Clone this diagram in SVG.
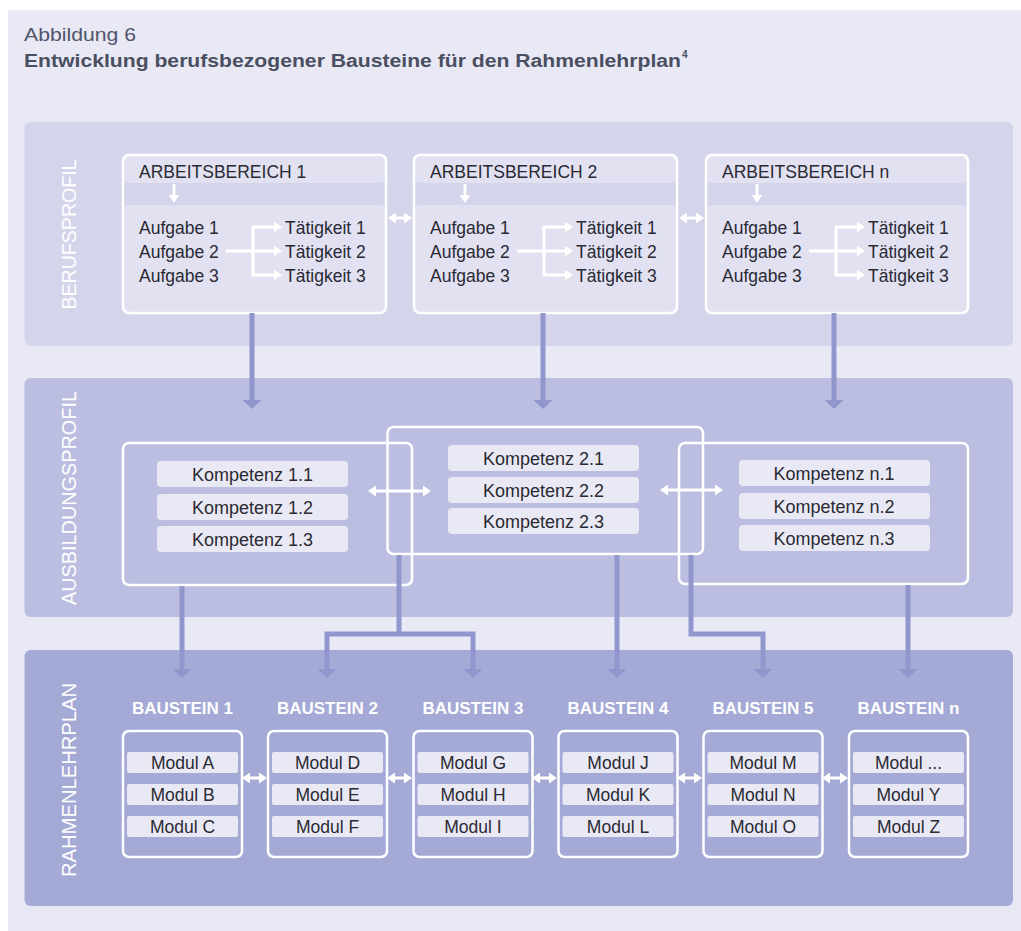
<svg xmlns="http://www.w3.org/2000/svg" width="1021" height="931" viewBox="0 0 1021 931">
<defs>
<style>
.t{font-family:"Liberation Sans",Arial,sans-serif;fill:#2a2a32;font-size:17.5px}
.k{font-size:18px}
.c{text-anchor:middle}
.vl{font-family:"Liberation Sans",Arial,sans-serif;fill:#ffffff;font-size:20px;text-anchor:middle}
.bl{font-family:"Liberation Sans",Arial,sans-serif;fill:#ffffff;font-size:17px;font-weight:bold;text-anchor:middle}
.box{fill:none;stroke:#ffffff;stroke-width:2.5}
.light{fill:#e1e1f2}
.pill{fill:#e9e9f5}
.wl{fill:none;stroke:#ffffff;stroke-width:3}
.pl{fill:none;stroke:#9197cd;stroke-width:5}
</style>
<marker id="wh" viewBox="0 0 8 11" refX="0" refY="5.5" markerWidth="8" markerHeight="11" markerUnits="userSpaceOnUse" orient="auto-start-reverse"><path d="M0,0 L8,5.5 L0,11 z" fill="#ffffff"/></marker>
<marker id="ph" viewBox="0 0 9 19" refX="0" refY="9.5" markerWidth="9" markerHeight="19" markerUnits="userSpaceOnUse" orient="auto-start-reverse"><path d="M0,0 L9,9.5 L0,19 z" fill="#9197cd"/></marker>
</defs>
<rect x="0" y="0" width="1021" height="931" fill="#ffffff"/>
<rect x="8" y="10" width="1013" height="921" fill="#e9e9f5"/>
<text x="24" y="41" style="font-family:'Liberation Sans',Arial,sans-serif;font-size:18.5px;fill:#50546a" textLength="112" lengthAdjust="spacingAndGlyphs">Abbildung 6</text>
<text x="24" y="66.5" style="font-family:'Liberation Sans',Arial,sans-serif;font-size:18px;font-weight:bold;fill:#4b4f62" textLength="657" lengthAdjust="spacingAndGlyphs">Entwicklung berufsbezogener Bausteine für den Rahmenlehrplan</text>
<text x="682" y="58" style="font-family:'Liberation Sans',Arial,sans-serif;font-size:10px;font-weight:bold;fill:#4b4f62">4</text>

<g id="panel-berufsprofil">
<rect x="24.5" y="122" width="988.5" height="224" rx="6" fill="#d4d4eb"/>
<text class="vl" transform="translate(75.5,234.5) rotate(-90)" textLength="150" lengthAdjust="spacingAndGlyphs">BERUFSPROFIL</text>
</g>
<g id="panel-ausbildungsprofil">
<rect x="24.5" y="378" width="988.5" height="239" rx="6" fill="#bbbee0"/>
<text class="vl" transform="translate(75.5,498) rotate(-90)" textLength="214" lengthAdjust="spacingAndGlyphs">AUSBILDUNGSPROFIL</text>
</g>
<g id="panel-rahmenlehrplan">
<rect x="24.5" y="650" width="988.5" height="256" rx="6" fill="#a5a9d6"/>
<text class="vl" transform="translate(75.5,780) rotate(-90)" textLength="194" lengthAdjust="spacingAndGlyphs">RAHMENLEHRPLAN</text>
</g>

<g id="arbeitsbereich-1">
<rect class="light" x="124" y="156" width="261" height="27" rx="5"/>
<rect class="light" x="124" y="205" width="261" height="107" rx="5"/>
<rect class="box" x="123" y="155" width="263" height="158" rx="6"/>
<text class="t" x="139" y="178">ARBEITSBEREICH 1</text>
<path class="wl" d="M174,184 V195" marker-end="url(#wh)"/>
<text class="t" x="139" y="234">Aufgabe 1</text>
<text class="t" x="139" y="258">Aufgabe 2</text>
<text class="t" x="139" y="282">Aufgabe 3</text>
<text class="t" x="285" y="234">Tätigkeit 1</text>
<text class="t" x="285" y="258">Tätigkeit 2</text>
<text class="t" x="285" y="282">Tätigkeit 3</text>
<path class="wl" d="M226,251 H274" marker-end="url(#wh)"/>
<path class="wl" d="M274,227 H253 V275 H274" marker-start="url(#wh)" marker-end="url(#wh)"/>
</g>
<g id="arbeitsbereich-2">
<rect class="light" x="415" y="156" width="261" height="27" rx="5"/>
<rect class="light" x="415" y="205" width="261" height="107" rx="5"/>
<rect class="box" x="414" y="155" width="263" height="158" rx="6"/>
<text class="t" x="430" y="178">ARBEITSBEREICH 2</text>
<path class="wl" d="M465,184 V195" marker-end="url(#wh)"/>
<text class="t" x="430" y="234">Aufgabe 1</text>
<text class="t" x="430" y="258">Aufgabe 2</text>
<text class="t" x="430" y="282">Aufgabe 3</text>
<text class="t" x="576" y="234">Tätigkeit 1</text>
<text class="t" x="576" y="258">Tätigkeit 2</text>
<text class="t" x="576" y="282">Tätigkeit 3</text>
<path class="wl" d="M517,251 H565" marker-end="url(#wh)"/>
<path class="wl" d="M565,227 H544 V275 H565" marker-start="url(#wh)" marker-end="url(#wh)"/>
</g>
<g id="arbeitsbereich-n">
<rect class="light" x="707" y="156" width="260" height="27" rx="5"/>
<rect class="light" x="707" y="205" width="260" height="107" rx="5"/>
<rect class="box" x="706" y="155" width="262" height="158" rx="6"/>
<text class="t" x="722" y="178">ARBEITSBEREICH n</text>
<path class="wl" d="M757,184 V195" marker-end="url(#wh)"/>
<text class="t" x="722" y="234">Aufgabe 1</text>
<text class="t" x="722" y="258">Aufgabe 2</text>
<text class="t" x="722" y="282">Aufgabe 3</text>
<text class="t" x="868" y="234">Tätigkeit 1</text>
<text class="t" x="868" y="258">Tätigkeit 2</text>
<text class="t" x="868" y="282">Tätigkeit 3</text>
<path class="wl" d="M809,251 H857" marker-end="url(#wh)"/>
<path class="wl" d="M857,227 H836 V275 H857" marker-start="url(#wh)" marker-end="url(#wh)"/>
</g>

<g id="kompetenz-1">
<rect class="pill" x="157" y="461" width="191" height="26" rx="4"/>
<rect class="pill" x="157" y="494" width="191" height="26" rx="4"/>
<rect class="pill" x="157" y="526" width="191" height="26" rx="4"/>
<text class="t k c" x="252.5" y="480.5">Kompetenz 1.1</text>
<text class="t k c" x="252.5" y="513.5">Kompetenz 1.2</text>
<text class="t k c" x="252.5" y="545.5">Kompetenz 1.3</text>
<rect class="box" x="123" y="443" width="289" height="142" rx="6"/>
</g>
<g id="kompetenz-2">
<rect class="pill" x="448" y="445" width="191" height="26" rx="4"/>
<rect class="pill" x="448" y="477" width="191" height="26" rx="4"/>
<rect class="pill" x="448" y="508" width="191" height="26" rx="4"/>
<text class="t k c" x="543.5" y="464.5">Kompetenz 2.1</text>
<text class="t k c" x="543.5" y="496.5">Kompetenz 2.2</text>
<text class="t k c" x="543.5" y="527.5">Kompetenz 2.3</text>
<rect class="box" x="387.5" y="427" width="315.5" height="127" rx="6"/>
</g>
<g id="kompetenz-n">
<rect class="pill" x="739" y="460" width="191" height="26" rx="4"/>
<rect class="pill" x="739" y="493" width="191" height="26" rx="4"/>
<rect class="pill" x="739" y="525" width="191" height="26" rx="4"/>
<text class="t k c" x="834" y="479.5">Kompetenz n.1</text>
<text class="t k c" x="834" y="512.5">Kompetenz n.2</text>
<text class="t k c" x="834" y="544.5">Kompetenz n.3</text>
<rect class="box" x="679" y="443" width="289" height="141" rx="6"/>
</g>

<g id="baustein-1">
<text class="bl" x="182.5" y="714">BAUSTEIN 1</text>
<rect class="pill" x="127" y="752" width="111" height="21" rx="2"/>
<rect class="pill" x="127" y="784" width="111" height="21" rx="2"/>
<rect class="pill" x="127" y="816" width="111" height="21" rx="2"/>
<text class="t c" x="182.5" y="768.5">Modul A</text>
<text class="t c" x="182.5" y="800.5">Modul B</text>
<text class="t c" x="182.5" y="832.5">Modul C</text>
<rect class="box" x="123" y="731" width="119" height="126" rx="6"/>
</g>
<g id="baustein-2">
<text class="bl" x="327.5" y="714">BAUSTEIN 2</text>
<rect class="pill" x="272" y="752" width="111" height="21" rx="2"/>
<rect class="pill" x="272" y="784" width="111" height="21" rx="2"/>
<rect class="pill" x="272" y="816" width="111" height="21" rx="2"/>
<text class="t c" x="327.5" y="768.5">Modul D</text>
<text class="t c" x="327.5" y="800.5">Modul E</text>
<text class="t c" x="327.5" y="832.5">Modul F</text>
<rect class="box" x="268" y="731" width="119" height="126" rx="6"/>
</g>
<g id="baustein-3">
<text class="bl" x="473" y="714">BAUSTEIN 3</text>
<rect class="pill" x="417.5" y="752" width="111" height="21" rx="2"/>
<rect class="pill" x="417.5" y="784" width="111" height="21" rx="2"/>
<rect class="pill" x="417.5" y="816" width="111" height="21" rx="2"/>
<text class="t c" x="473" y="768.5">Modul G</text>
<text class="t c" x="473" y="800.5">Modul H</text>
<text class="t c" x="473" y="832.5">Modul I</text>
<rect class="box" x="413.5" y="731" width="119" height="126" rx="6"/>
</g>
<g id="baustein-4">
<text class="bl" x="618" y="714">BAUSTEIN 4</text>
<rect class="pill" x="562.5" y="752" width="111" height="21" rx="2"/>
<rect class="pill" x="562.5" y="784" width="111" height="21" rx="2"/>
<rect class="pill" x="562.5" y="816" width="111" height="21" rx="2"/>
<text class="t c" x="618" y="768.5">Modul J</text>
<text class="t c" x="618" y="800.5">Modul K</text>
<text class="t c" x="618" y="832.5">Modul L</text>
<rect class="box" x="558.5" y="731" width="119" height="126" rx="6"/>
</g>
<g id="baustein-5">
<text class="bl" x="763" y="714">BAUSTEIN 5</text>
<rect class="pill" x="707.5" y="752" width="111" height="21" rx="2"/>
<rect class="pill" x="707.5" y="784" width="111" height="21" rx="2"/>
<rect class="pill" x="707.5" y="816" width="111" height="21" rx="2"/>
<text class="t c" x="763" y="768.5">Modul M</text>
<text class="t c" x="763" y="800.5">Modul N</text>
<text class="t c" x="763" y="832.5">Modul O</text>
<rect class="box" x="703.5" y="731" width="119" height="126" rx="6"/>
</g>
<g id="baustein-n">
<text class="bl" x="908.5" y="714">BAUSTEIN n</text>
<rect class="pill" x="853" y="752" width="111" height="21" rx="2"/>
<rect class="pill" x="853" y="784" width="111" height="21" rx="2"/>
<rect class="pill" x="853" y="816" width="111" height="21" rx="2"/>
<text class="t c" x="908.5" y="768.5">Modul ...</text>
<text class="t c" x="908.5" y="800.5">Modul Y</text>
<text class="t c" x="908.5" y="832.5">Modul Z</text>
<rect class="box" x="849" y="731" width="119" height="126" rx="6"/>
</g>

<g id="connectors">
<path class="pl" d="M252,313 V400" marker-end="url(#ph)"/>
<path class="pl" d="M543,313 V400" marker-end="url(#ph)"/>
<path class="pl" d="M834,313 V400" marker-end="url(#ph)"/>
<path class="pl" d="M182,586 V669" marker-end="url(#ph)"/>
<path class="pl" d="M399,555 V634"/>
<path class="pl" d="M327,669 V634 H473 V669" marker-start="url(#ph)" marker-end="url(#ph)"/>
<path class="pl" d="M617,555 V669" marker-end="url(#ph)"/>
<path class="pl" d="M691,555 V634 H763 V669" marker-end="url(#ph)"/>
<path class="pl" d="M908,585 V669" marker-end="url(#ph)"/>
<path class="wl" d="M396,218 H404" marker-start="url(#wh)" marker-end="url(#wh)"/>
<path class="wl" d="M687,218 H696" marker-start="url(#wh)" marker-end="url(#wh)"/>
<path class="wl" d="M376,491 H423" marker-start="url(#wh)" marker-end="url(#wh)"/>
<path class="wl" d="M668,490 H715" marker-start="url(#wh)" marker-end="url(#wh)"/>
<path class="wl" d="M250,778 H259" marker-start="url(#wh)" marker-end="url(#wh)"/>
<path class="wl" d="M395,778 H404" marker-start="url(#wh)" marker-end="url(#wh)"/>
<path class="wl" d="M540,778 H549" marker-start="url(#wh)" marker-end="url(#wh)"/>
<path class="wl" d="M685,778 H694" marker-start="url(#wh)" marker-end="url(#wh)"/>
<path class="wl" d="M830,778 H840" marker-start="url(#wh)" marker-end="url(#wh)"/>
</g>
</svg>
